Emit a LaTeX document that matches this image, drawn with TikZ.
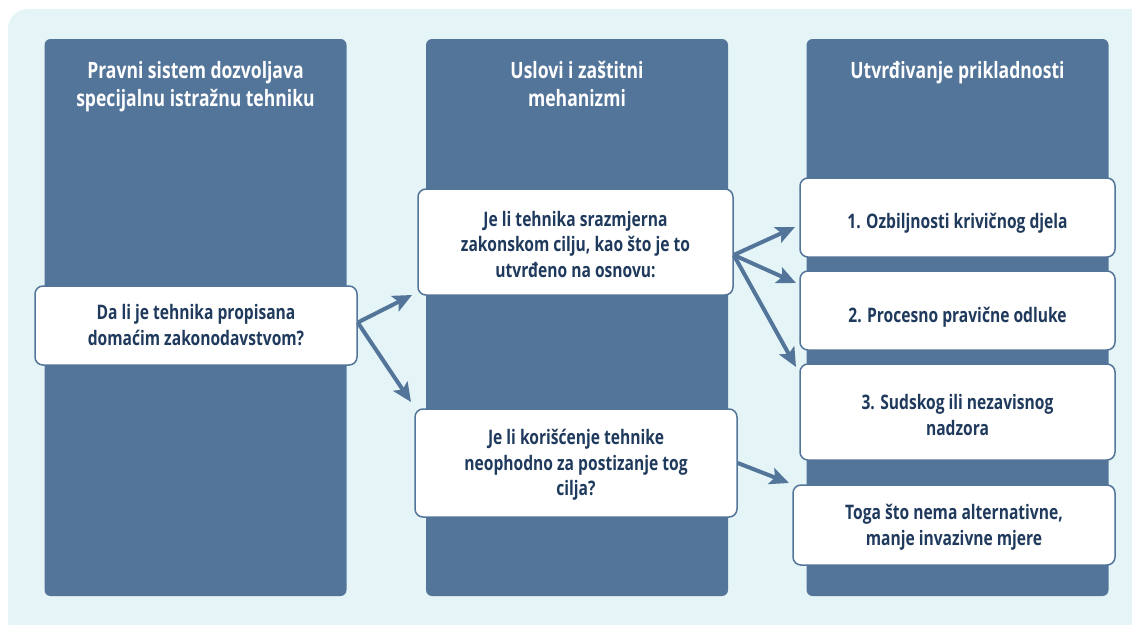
\documentclass[tikz,border=0pt]{standalone}
\usepackage{fontspec}
\setmainfont{Open Sans}[FakeStretch=0.78]
\usetikzlibrary{arrows.meta,calc}
\definecolor{colblue}{HTML}{54759A}
\definecolor{bgcyan}{HTML}{E5F4F6}
\definecolor{navy}{HTML}{1F3A5C}
\newcommand\cardfont{\fontsize{20}{25.5}\selectfont\bfseries}
\newcommand\headfont{\fontsize{22.5}{28}\selectfont\bfseries}
\begin{document}
\begin{tikzpicture}[x=1pt,y=-1pt,
  colbox/.style={fill=colblue, rounded corners=6pt, inner sep=0pt, minimum width=302pt, minimum height=557pt},
  % the argument sets how far the last text baseline sits below the card centre (twice that value)
  card/.style={draw=colblue, line width=1.5pt, fill=white, rounded corners=8pt, inner sep=0pt,
    align=center, text=navy, font=\cardfont, text height=#1, text depth=0pt},
  head/.style={text=white, align=center, font=\headfont, anchor=base, inner sep=0pt},
  link/.style={draw=colblue, line width=4pt, -{Stealth[length=19pt,width=17pt,inset=4pt]}}]
\useasboundingbox (0,0) rectangle (1132,624);
% background panel
\fill[bgcyan, rounded corners=20pt] (8,9) rectangle (1150,640);
% three columns
\node[colbox] (col1) at (195.5,317.5) {};
\node[colbox] (col2) at (577,317.5) {};
\node[colbox] (col3) at (957.5,317.5) {};
% column headers
\node[head] (h1) at (195.5,106) {Pravni sistem dozvoljava\\specijalnu istražnu tehniku};
\node[head] (h2) at (577,106) {Uslovi i zaštitni\\mehanizmi};
\node[head] (h3) at (957.5,78) {Utvrđivanje prikladnosti};
% question cards
\node[card=39pt, minimum width=322pt, minimum height=79pt] (A) at (196,325.5)
  {Da li je tehnika propisana\\domaćim zakonodavstvom?};
\node[card=70pt, minimum width=315pt, minimum height=106pt] (B) at (575.5,242)
  {Je li tehnika srazmjerna\\zakonskom cilju, kao što je to\\utvrđeno na osnovu:};
\node[card=65pt, minimum width=322pt, minimum height=108pt] (C) at (576,463)
  {Je li korišćenje tehnike\\neophodno za postizanje tog\\cilja?};
% criteria cards
\node[card=21pt, minimum width=315pt, minimum height=79pt] (D1) at (957.5,217.5)
  {1. Ozbiljnosti krivičnog djela};
\node[card=23pt, minimum width=315pt, minimum height=79pt] (D2) at (957.5,310.5)
  {2. Procesno pravične odluke};
\node[card=46pt, minimum width=315pt, minimum height=96pt] (D3) at (957.5,412)
  {3. Sudskog ili nezavisnog\\nadzora};
\node[card=40pt, minimum width=322pt, minimum height=80pt] (D4) at (954,525)
  {Toga što nema alternativne,\\manje invazivne mjere};
% arrow tips
\coordinate (tB) at (412,295);
\coordinate (tC) at (411,402);
\coordinate (t1) at (795,227);
\coordinate (t2) at (796,283);
\coordinate (t3) at (796,367);
\coordinate (t4) at (789,483);
% connectors
\draw[link] ($(A.east)+(0,-3)$) -- (tB);
\draw[link] ($(A.east)+(0,-3)$) -- (tC);
\draw[link] ($(B.east)+(0,13)$) -- (t1);
\draw[link] ($(B.east)+(0,13)$) -- (t2);
\draw[link] ($(B.east)+(0,13)$) -- (t3);
\draw[link] (C.east) -- (t4);
\end{tikzpicture}
\end{document}
